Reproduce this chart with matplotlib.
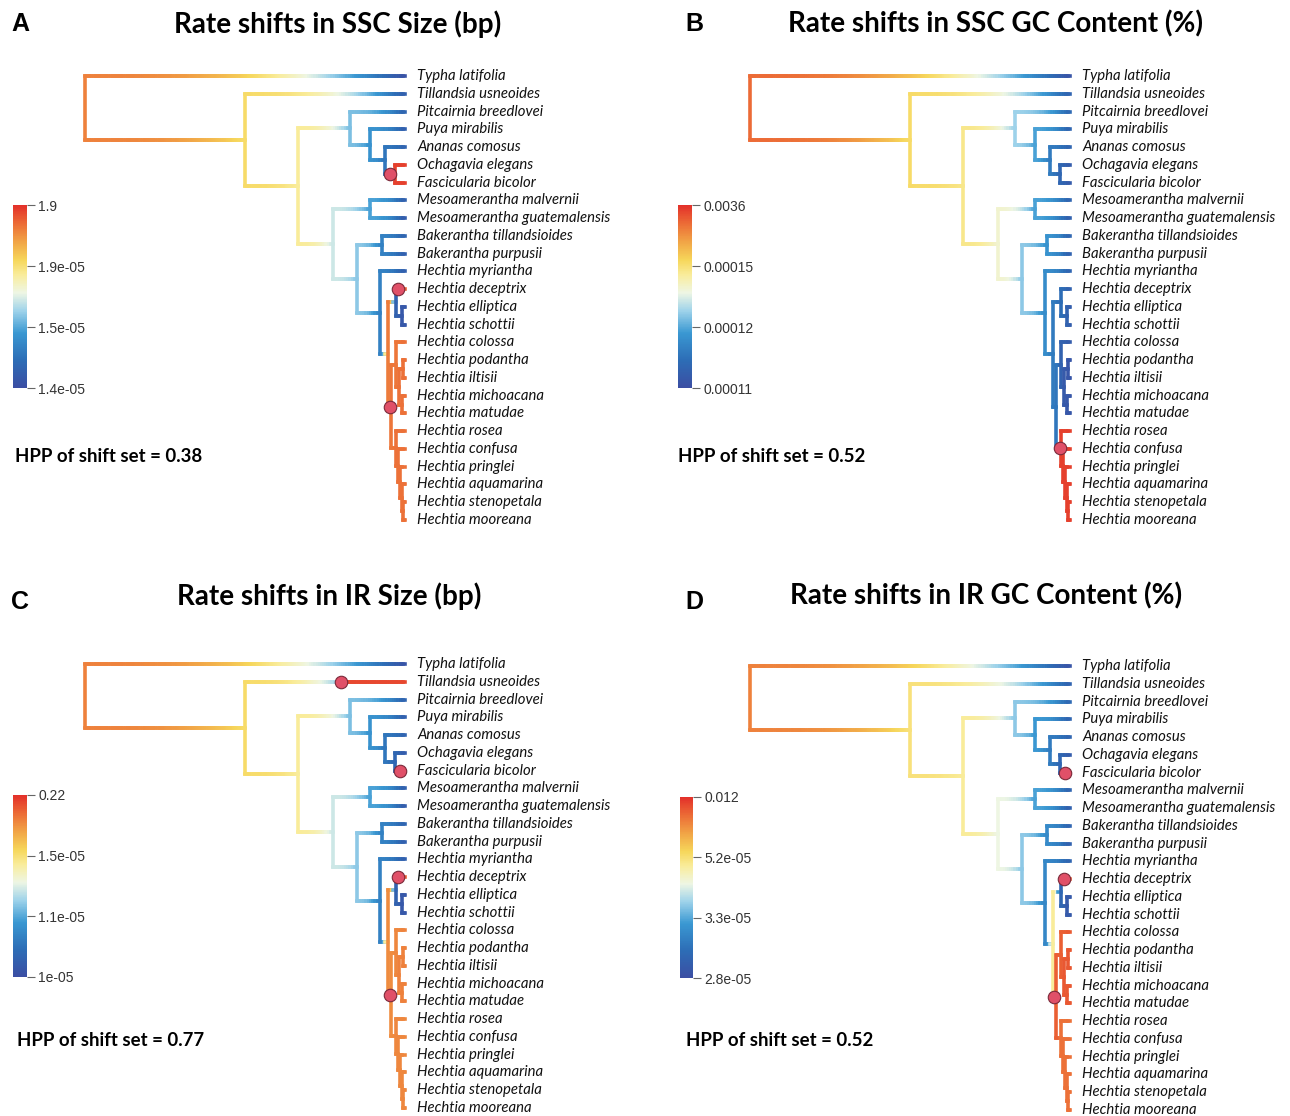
import numpy as np
import matplotlib.pyplot as plt
from matplotlib.collections import LineCollection
from matplotlib.colors import LinearSegmentedColormap, Normalize
from matplotlib.cm import ScalarMappable
from matplotlib.transforms import offset_copy

# tree topology (Bromeliaceae / Hechtia plastome tree) and node depths (tips at 1.0)
children = {
    "root": ["Typha_latifolia", "n1"],
    "n1": ["Tillandsia_usneoides", "n2"],
    "n2": ["n3", "n4"],
    "n3": ["Pitcairnia_breedlovei", "n5"],
    "n5": ["Puya_mirabilis", "n6"],
    "n6": ["Ananas_comosus", "n7"],
    "n7": ["Ochagavia_elegans", "Fascicularia_bicolor"],
    "n4": ["n8", "n9"],
    "n8": ["Mesoamerantha_malvernii", "Mesoamerantha_guatemalensis"],
    "n9": ["n10", "n11"],
    "n10": ["Bakerantha_tillandsioides", "Bakerantha_purpusii"],
    "n11": ["Hechtia_myriantha", "n12"],
    "n12": ["n13", "n14"],
    "n13": ["Hechtia_deceptrix", "n13b"],
    "n13b": ["Hechtia_elliptica", "Hechtia_schottii"],
    "n14": ["n15", "n16"],
    "n15": ["Hechtia_colossa", "n15a"],
    "n15a": ["n15b", "n15c"],
    "n15b": ["Hechtia_podantha", "Hechtia_iltisii"],
    "n15c": ["Hechtia_michoacana", "Hechtia_matudae"],
    "n16": ["Hechtia_rosea", "n16a"],
    "n16a": ["Hechtia_confusa", "n16b"],
    "n16b": ["Hechtia_pringlei", "n16c"],
    "n16c": ["Hechtia_aquamarina", "n16d"],
    "n16d": ["Hechtia_stenopetala", "Hechtia_mooreana"],
}
internal_nodes = ["root", "n1", "n2", "n3", "n5", "n6", "n7", "n4", "n8", "n9", "n10", "n11",
                  "n12", "n13", "n13b", "n14", "n15", "n15a", "n15b", "n15c",
                  "n16", "n16a", "n16b", "n16c", "n16d"]
node_depth = [0.0, 0.5, 0.666, 0.828, 0.891, 0.9375, 0.969, 0.775, 0.891, 0.85, 0.928, 0.922,
              0.947, 0.972, 0.991, 0.956, 0.972, 0.981, 0.994, 0.991,
              0.972, 0.978, 0.984, 0.991, 0.994]

# rates as colour position (0 = slowest, 1 = fastest), internal nodes then tips (tree order)
rate_A_nodes = [.86, .68, .62, .38, .28, .18, .97, .48, .32, .40, .22, .22,
                .87, .10, .05, .88, .88, .89, .89, .89, .89, .89, .89, .89, .89]
rate_A_tips = [.02, .08, .10, .08, .10, .97, .97, .08, .06, .10, .08, .08,
               .92, .05, .05, .89, .89, .89, .89, .89, .89, .89, .89, .89, .89, .89]
rate_B_nodes = [.90, .68, .64, .42, .32, .20, .12, .55, .32, .40, .28, .26,
                .20, .15, .10, .18, .10, .06, .04, .05, .97, .97, .97, .97, .97]
rate_B_tips = [.03, .10, .12, .10, .10, .06, .05, .10, .08, .10, .08, .10,
               .08, .06, .06, .06, .04, .04, .04, .04, .97, .97, .97, .97, .97, .97]
rate_C_nodes = [.86, .68, .62, .38, .28, .18, .12, .48, .32, .40, .22, .22,
                .84, .10, .05, .84, .85, .86, .86, .86, .85, .85, .85, .85, .85]
rate_C_tips = [.03, .96, .10, .08, .10, .06, .95, .08, .06, .10, .08, .08,
               .92, .05, .05, .86, .86, .86, .86, .86, .85, .85, .85, .85, .85, .85]
rate_D_nodes = [.86, .66, .62, .40, .30, .20, .12, .52, .32, .40, .25, .24,
                .62, .12, .06, .92, .92, .93, .93, .93, .89, .89, .89, .89, .89]
rate_D_tips = [.03, .10, .12, .10, .10, .06, .95, .10, .08, .10, .08, .10,
               .92, .06, .06, .93, .93, .93, .93, .93, .89, .89, .89, .89, .89, .89]

# shifts: branch -> (position along branch, rate before, rate after)
shifts_A = {"n7": (0.5, .15, .97), "Hechtia_deceptrix": (0.25, .10, .92), "n14": (0.6, .87, .88)}
shifts_B = {"n16": (0.7, .18, .97)}
shifts_C = {"Tillandsia_usneoides": (0.6, .40, .96), "Fascicularia_bicolor": (0.5, .10, .95),
            "Hechtia_deceptrix": (0.25, .10, .92), "n14": (0.6, .84, .84)}
shifts_D = {"Fascicularia_bicolor": (0.5, .10, .95), "Hechtia_deceptrix": (0.3, .10, .92),
            "n14": (0.5, .62, .92)}

titles = ["Rate shifts in SSC Size (bp)", "Rate shifts in SSC GC Content (%)",
          "Rate shifts in IR Size (bp)", "Rate shifts in IR GC Content (%)"]
panel_letters = ["A", "B", "C", "D"]
hpp = [0.38, 0.52, 0.77, 0.52]
cbar_labels = [["1.4e-05", "1.5e-05", "1.9e-05", "1.9"],
               ["0.00011", "0.00012", "0.00015", "0.0036"],
               ["1e-05", "1.1e-05", "1.5e-05", "0.22"],
               ["2.8e-05", "3.3e-05", "5.2e-05", "0.012"]]

cmap = LinearSegmentedColormap.from_list("bamm", [
    (0.0, "#3b4ea3"), (0.15, "#2d6db6"), (0.3, "#3a98d2"), (0.42, "#9dd2ea"),
    (0.52, "#eef6e4"), (0.62, "#f9ec9a"), (0.70, "#f6d65a"), (0.80, "#f1a446"),
    (0.90, "#ec6c36"), (1.0, "#e3302a")])

W, H = 1290, 1116
LW = 2.6


def rect(l, t, r, b):
    return [l / W, 1 - b / H, (r - l) / W, (b - t) / H]


def layout():
    depth = dict(zip(internal_nodes, node_depth))
    X, Y, tips = {}, {}, []

    def walk(n):
        if n not in children:
            Y[n] = len(tips)
            X[n] = 1.0
            tips.append(n)
            return
        for c in children[n]:
            walk(c)
        X[n] = depth[n]
        Y[n] = (Y[children[n][0]] + Y[children[n][-1]]) / 2
    walk("root")
    return X, Y, tips


X, Y, tips = layout()


def draw_tree(ax, node_rates, tip_rates, shifts):
    val = dict(zip(internal_nodes, node_rates))
    val.update(zip(tips, tip_rates))
    segs, cols, marks = [], [], []

    def grad(x0, x1, yy, v0, v1):
        n = max(2, int((x1 - x0) * 150))
        xs = np.linspace(x0, x1, n + 1)
        t = (np.arange(n) + 0.5) / n
        vs = v0 + (v1 - v0) * t ** 2.5
        for i in range(n):
            segs.append([(xs[i], yy), (xs[i + 1], yy)])
            cols.append(cmap(vs[i]))

    for node, kids in children.items():
        for c in kids:
            x0, x1 = X[node], X[c]
            if c in shifts:
                f, vb, va = shifts[c]
                xm = x0 + f * (x1 - x0)
                grad(x0, xm, Y[c], val[node], vb)
                grad(xm, x1, Y[c], va, val[c])
                marks.append((xm, Y[c]))
            else:
                grad(x0, x1, Y[c], val[node], val[c])
    ax.add_collection(LineCollection(segs, colors=cols, linewidths=LW, capstyle='projecting',
                                     clip_on=False))
    for node, kids in children.items():
        ax.plot([X[node], X[node]], [Y[kids[0]], Y[kids[-1]]], color=cmap(val[node]),
                lw=LW, solid_capstyle='projecting', clip_on=False)
    for mx, my in marks:
        ax.plot(mx, my, 'o', ms=9, mfc='#e05068', mec='#7a2a3a', mew=0.8, zorder=5,
                clip_on=False)

    tr = offset_copy(ax.transData, fig=ax.figure, x=12, y=0, units='dots')
    for t in tips:
        ax.text(1.0, Y[t], t.replace('_', ' '), transform=tr, ha='left', va='center',
                fontsize=10.7, style='italic', family='Lato', color='#111')
    ax.set_xlim(0, 1)
    ax.set_ylim(len(tips) - 1, 0)
    ax.axis('off')


fig = plt.figure(figsize=(12.9, 11.16), dpi=100)

tree_boxes = [(85, 76, 405, 520), (750, 76, 1070, 520), (85, 664, 405, 1108), (750, 666, 1070, 1110)]
cbar_boxes = [(13, 205, 27, 388), (678, 205, 692, 388), (13, 795, 27, 977), (680, 797, 693, 978)]
title_pos = [(338, 24), (996, 24), (329, 596), (986, 596)]
letter_pos = [(11, 24), (685, 24), (11, 602), (685, 602)]
hpp_pos = [(15, 457), (678, 457), (17, 1041), (686, 1041)]
rates = [(rate_A_nodes, rate_A_tips, shifts_A), (rate_B_nodes, rate_B_tips, shifts_B),
         (rate_C_nodes, rate_C_tips, shifts_C), (rate_D_nodes, rate_D_tips, shifts_D)]

for k in range(4):
    ax = fig.add_axes(rect(*tree_boxes[k]))
    draw_tree(ax, *rates[k])

    cax = fig.add_axes(rect(*cbar_boxes[k]))
    cb = fig.colorbar(ScalarMappable(Normalize(0, 1), cmap), cax=cax, ticks=[0, 1 / 3, 2 / 3, 1])
    cb.ax.set_yticklabels(cbar_labels[k], family='Liberation Sans')
    cb.outline.set_visible(False)
    cax.tick_params(length=6, width=0.8, color='#666', labelsize=10, labelcolor='#333', pad=2)

    tx, ty = title_pos[k]
    fig.text(tx / W, 1 - ty / H, titles[k], ha='center', va='center', fontsize=20,
             fontweight='bold', family='Lato')
    lx, ly = letter_pos[k]
    fig.text(lx / W, 1 - ly / H, panel_letters[k], ha='left', va='center', fontsize=18,
             fontweight='bold', family='Liberation Sans')
    hx, hy = hpp_pos[k]
    fig.text(hx / W, 1 - hy / H, "HPP of shift set = %.2f" % hpp[k], ha='left', va='center',
             fontsize=13.4, fontweight='bold', family='Lato')

fig.savefig("out.png", dpi=100, facecolor='white')
